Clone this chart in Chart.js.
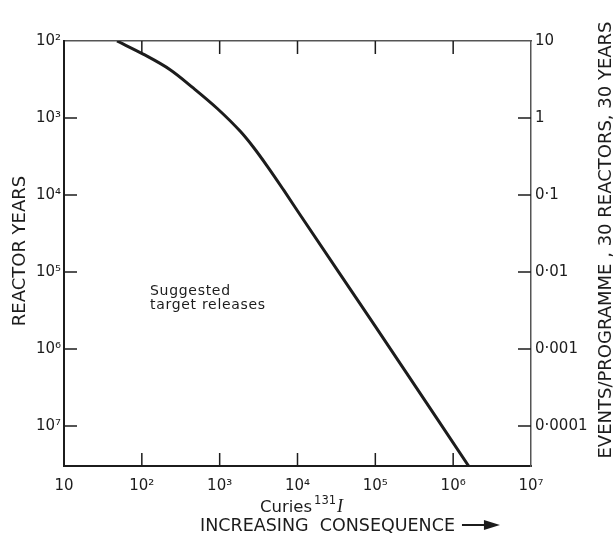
<!DOCTYPE html>
<html>
<head>
<meta charset="utf-8">
<script src="https://cdn.jsdelivr.net/npm/chart.js@4.4.1/dist/chart.umd.min.js"></script>
<style>
  body { margin: 0; background: #fff; }
  canvas { display: block; }
</style>
</head>
<body>
<canvas id="releaseChart" width="615" height="533"></canvas>
<script>
// values
const curies       = [48, 104, 231, 457, 931, 1840, 2700, 4100, 6590, 10900, 100000, 1580000];
const reactorYears = [100, 148, 236, 407, 752, 1490, 2380, 4240, 8530, 18300, 507000, 33000000];

const xTicks      = [10, 100, 1000, 10000, 100000, 1000000, 10000000];
const xTickLabels = ['10', '10²', '10³', '10⁴', '10⁵', '10⁶', '10⁷'];
const yTicks      = [100, 1000, 10000, 100000, 1000000, 10000000];
const yTickLabels = ['10²', '10³', '10⁴', '10⁵', '10⁶', '10⁷'];
const eventTicks      = [10, 1, 0.1, 0.01, 0.001, 0.0001];
const eventTickLabels = ['10', '1', '0·1', '0·01', '0·001', '0·0001'];

const ink = '#1c1c1c';
const tickFont = { family: "'DejaVu Sans', sans-serif", size: 15 };

function fixTicks(values) {
    return function (scale) {
        scale.ticks = values.map(function (v) { return { value: v }; });
    };
}

// short inward tick marks on all four sides
const innerTicks = {
    id: 'innerTicks',
    afterDatasetsDraw(chart) {
        const ctx = chart.ctx;
        const area = chart.chartArea;
        const len = 13;
        const s = chart.scales;
        ctx.save();
        ctx.strokeStyle = ink;
        ctx.lineWidth = 1.5;
        ctx.beginPath();
        xTicks.slice(1, -1).forEach(function (v) {
            const px = s.x.getPixelForValue(v);
            ctx.moveTo(px, area.bottom); ctx.lineTo(px, area.bottom - len);
            ctx.moveTo(px, area.top);    ctx.lineTo(px, area.top + len);
        });
        yTicks.slice(1).forEach(function (v) {
            const py = s.y.getPixelForValue(v);
            ctx.moveTo(area.left, py); ctx.lineTo(area.left + len, py);
        });
        eventTicks.slice(1).forEach(function (v) {
            const py = s.y2.getPixelForValue(v);
            ctx.moveTo(area.right, py); ctx.lineTo(area.right - len, py);
        });
        ctx.stroke();
        ctx.restore();
    }
};

// axis titles and notes
const labels = {
    id: 'labels',
    afterDraw(chart) {
        const ctx = chart.ctx;
        ctx.save();
        ctx.fillStyle = ink;
        ctx.textBaseline = 'middle';
        ctx.textAlign = 'center';

        ctx.font = "18px 'DejaVu Sans', sans-serif";
        ctx.save();
        ctx.translate(20, 251);
        ctx.rotate(-Math.PI / 2);
        ctx.fillText('REACTOR YEARS', 0, 0);
        ctx.restore();

        ctx.save();
        ctx.translate(606, 240);
        ctx.rotate(-Math.PI / 2);
        ctx.fillText('EVENTS/PROGRAMME , 30 REACTORS, 30 YEARS', 0, 0);
        ctx.restore();

        ctx.textAlign = 'left';
        ctx.textBaseline = 'alphabetic';
        ctx.font = "16.5px 'DejaVu Sans', sans-serif";
        ctx.fillText('Curies', 260, 512);
        let w = ctx.measureText('Curies').width;
        ctx.font = "11.5px 'DejaVu Sans', sans-serif";
        ctx.fillText('131', 260 + w + 2, 504);
        let w2 = ctx.measureText('131').width;
        ctx.font = "italic 18px 'Liberation Serif', serif";
        ctx.fillText('I', 260 + w + w2 + 3, 512);

        ctx.font = "17.5px 'DejaVu Sans', sans-serif";
        ctx.fillText('INCREASING  CONSEQUENCE', 200, 531);
        const aw = ctx.measureText('INCREASING  CONSEQUENCE').width;
        const ax = 200 + aw + 7;
        ctx.lineWidth = 2;
        ctx.strokeStyle = ink;
        ctx.beginPath();
        ctx.moveTo(ax, 525); ctx.lineTo(ax + 28, 525);
        ctx.stroke();
        ctx.beginPath();
        ctx.moveTo(ax + 38, 525); ctx.lineTo(ax + 22, 520); ctx.lineTo(ax + 22, 530);
        ctx.closePath();
        ctx.fill();

        ctx.font = "14px 'DejaVu Sans', sans-serif";
        ctx.letterSpacing = '0.7px';
        ctx.fillText('Suggested', 150, 295);
        ctx.fillText('target releases', 150, 309);
        ctx.restore();
    }
};

const points = curies.map(function (c, i) { return { x: c, y: reactorYears[i] }; });

new Chart(document.getElementById('releaseChart'), {
    type: 'line',
    data: {
        datasets: [{
            data: points,
            borderColor: ink,
            borderWidth: 3,
            pointRadius: 0,
            cubicInterpolationMode: 'monotone',
            fill: false
        }]
    },
    options: {
        responsive: false,
        animation: false,
        layout: { padding: 0 },
        plugins: { legend: { display: false }, tooltip: { enabled: false } },
        scales: {
            x: {
                type: 'logarithmic',
                position: 'bottom',
                min: 10, max: 10000000,
                afterBuildTicks: fixTicks(xTicks),
                afterFit: function (scale) { scale.height = 67; },
                grid: { display: false, drawTicks: false },
                border: { display: true, color: ink, width: 2 },
                ticks: {
                    padding: 11,
                    color: ink,
                    font: tickFont,
                    maxRotation: 0,
                    autoSkip: false,
                    callback: function (v, i) { return xTickLabels[i]; }
                }
            },
            x2: {
                type: 'logarithmic',
                position: 'top',
                min: 10, max: 10000000,
                afterFit: function (scale) { scale.height = 41; },
                grid: { display: false, drawTicks: false },
                border: { display: true, color: '#555', width: 1.5 },
                ticks: { display: false }
            },
            y: {
                type: 'logarithmic',
                position: 'left',
                reverse: true,
                min: 100, max: 33000000,
                afterBuildTicks: fixTicks(yTicks),
                afterFit: function (scale) { scale.width = 64; },
                grid: { display: false, drawTicks: false },
                border: { display: true, color: ink, width: 2 },
                ticks: {
                    padding: 3,
                    color: ink,
                    font: tickFont,
                    autoSkip: false,
                    callback: function (v, i) { return yTickLabels[i]; }
                }
            },
            y2: {
                type: 'logarithmic',
                position: 'right',
                min: 1000 / 33000000, max: 10,
                afterBuildTicks: fixTicks(eventTicks),
                afterFit: function (scale) { scale.width = 84; },
                grid: { display: false, drawTicks: false },
                border: { display: true, color: '#555', width: 1.5 },
                ticks: {
                    padding: 4,
                    color: ink,
                    font: tickFont,
                    autoSkip: false,
                    callback: function (v, i) { return eventTickLabels[i]; }
                }
            }
        }
    },
    plugins: [innerTicks, labels]
});
</script>
</body>
</html>
